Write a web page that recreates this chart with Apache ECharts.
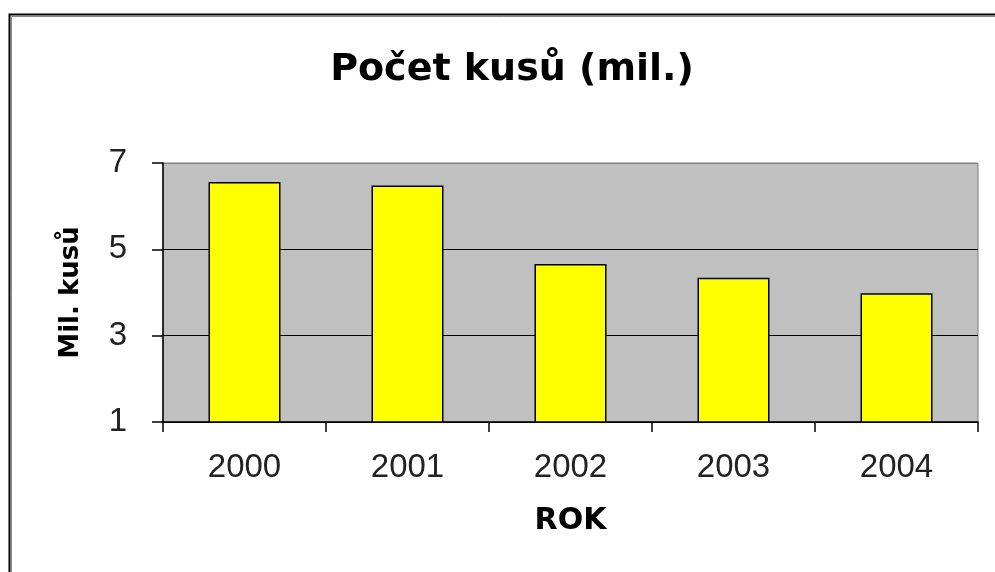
<!DOCTYPE html>
<html>
<head>
<meta charset="utf-8">
<script src="https://cdn.jsdelivr.net/npm/echarts@6/dist/echarts.min.js"></script>
<style>
  html, body { margin: 0; padding: 0; background: #fff; }
  #myChart { width: 995px; height: 572px; }
</style>
</head>
<body>
<div id="myChart"></div>
<script>
// data
var years = ["2000", "2001", "2002", "2003", "2004"];
var pieces = [6.56, 6.48, 4.66, 4.34, 3.98];
var yTicks = [1, 3, 5, 7];

var myChart = echarts.init(document.getElementById("myChart"));
myChart.setOption({
  animation: false,
  backgroundColor: "#fff",
  title: {
    text: "Počet kusů (mil.)",
    left: 507,
    top: 46,
    textAlign: "center",
    textStyle: {
      fontFamily: "DejaVu Sans",
      fontWeight: "bold",
      fontSize: 38,
      color: "#000"
    }
  },
  graphic: [
    {
      type: "rect",
      shape: { x: 9.5, y: 14.5, width: 2000, height: 2000 },
      style: { fill: null, stroke: "#000", lineWidth: 2 },
      z: 0
    },
    {
      type: "rect",
      shape: { x: 11.5, y: 16.5, width: 2000, height: 2000 },
      style: { fill: null, stroke: "#888", lineWidth: 1 },
      z: 0
    }
  ],
  grid: {
    left: 163,
    right: 17,
    top: 163,
    bottom: 150,
    show: true,
    backgroundColor: "#c0c0c0",
    borderColor: "#808080",
    borderWidth: 1
  },
  xAxis: {
    type: "category",
    data: years,
    boundaryGap: true,
    name: "ROK",
    nameLocation: "middle",
    nameGap: 84,
    nameTextStyle: {
      fontFamily: "DejaVu Sans",
      fontWeight: "bold",
      fontSize: 30,
      color: "#000"
    },
    axisLine: { lineStyle: { color: "#000", width: 1.5 } },
    axisTick: { show: true, length: 10, lineStyle: { color: "#000", width: 1.5 } },
    axisLabel: {
      margin: 29,
      fontFamily: "Liberation Sans",
      fontSize: 33,
      color: "#222"
    }
  },
  yAxis: {
    type: "value",
    min: yTicks[0],
    max: yTicks[yTicks.length - 1],
    interval: 2,
    name: "Mil. kusů",
    nameLocation: "middle",
    nameGap: 79,
    nameTextStyle: {
      fontFamily: "DejaVu Sans",
      fontWeight: "bold",
      fontSize: 26,
      color: "#000"
    },
    axisLine: { show: true, lineStyle: { color: "#000", width: 1.5 } },
    axisTick: { show: true, length: 11, lineStyle: { color: "#000", width: 1.5 } },
    axisLabel: {
      margin: 36,
      fontFamily: "Liberation Sans",
      fontSize: 33,
      color: "#222"
    },
    splitLine: {
      show: true,
      lineStyle: { color: ["#000", "#000", "#000", "#808080"], width: 1.2 }
    }
  },
  series: [
    {
      name: "Počet kusů",
      type: "bar",
      data: pieces,
      barWidth: 72,
      itemStyle: {
        color: "#ffff00",
        borderColor: "#000",
        borderWidth: 1.5
      }
    }
  ]
});
</script>
</body>
</html>
